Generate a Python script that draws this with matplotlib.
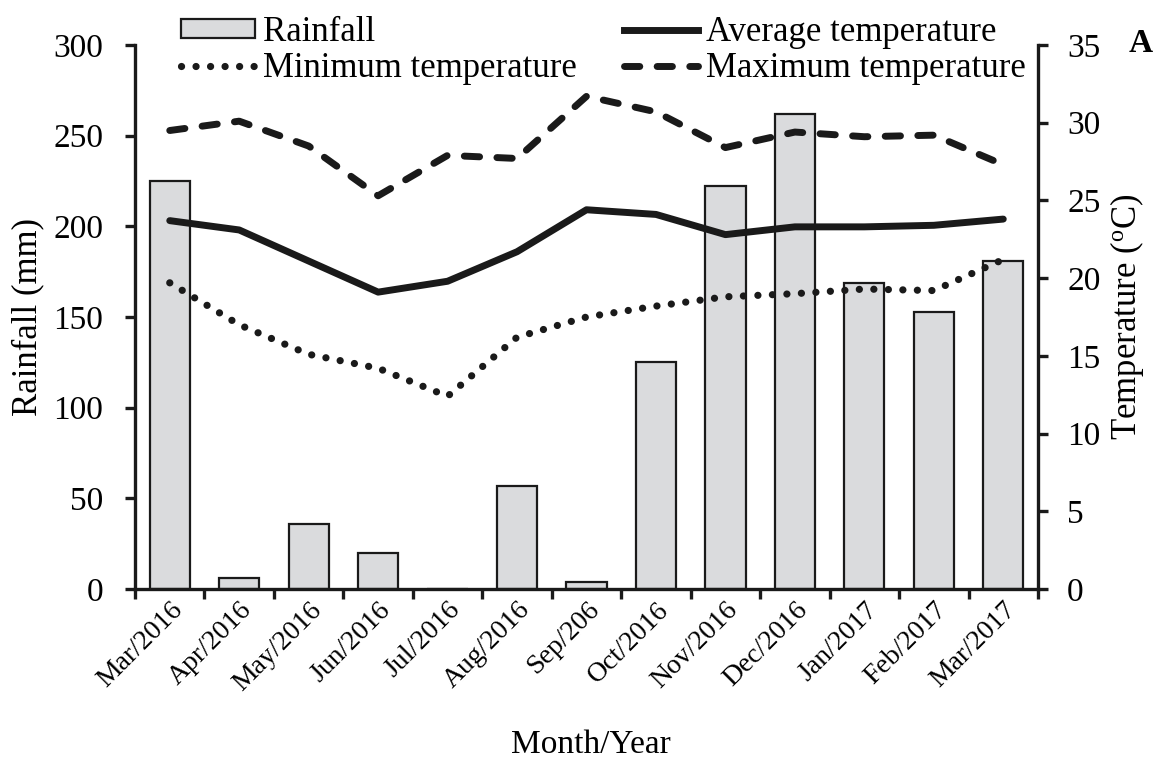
import matplotlib
matplotlib.use("Agg")
import matplotlib.pyplot as plt
from matplotlib.patches import Patch
from matplotlib.lines import Line2D
import numpy as np

plt.rcParams["font.family"] = ["Liberation Serif", "DejaVu Serif"]

months = ["Mar/2016", "Apr/2016", "May/2016", "Jun/2016", "Jul/2016", "Aug/2016",
          "Sep/206", "Oct/2016", "Nov/2016", "Dec/2016", "Jan/2017", "Feb/2017", "Mar/2017"]
rainfall = [225, 6, 36, 20, 0, 57, 4, 125, 222, 262, 169, 153, 181]
temp_avg = [23.7, 23.1, 21.1, 19.1, 19.8, 21.7, 24.4, 24.1, 22.8, 23.3, 23.3, 23.4, 23.8]
temp_min = [19.7, 17.0, 15.1, 14.2, 12.4, 16.2, 17.5, 18.2, 18.8, 19.0, 19.3, 19.2, 21.2]
temp_max = [29.5, 30.1, 28.5, 25.3, 27.9, 27.7, 31.7, 30.7, 28.4, 29.4, 29.1, 29.2, 27.3]

x = np.arange(len(months))
FS = 24
INK = "#1a1a1a"
BAR = "#dadbdd"

fig = plt.figure(figsize=(11.59, 7.58), dpi=100)
ax = fig.add_axes([0.1165, 0.2230, 0.7791, 0.7176])
ax2 = ax.twinx()

ax.bar(x, rainfall, width=0.58, color=BAR, edgecolor=INK, linewidth=1.6, zorder=2)
ax.set_xlim(-0.5, len(months) - 0.5)
ax.set_ylim(0, 300)
ax.set_yticks(np.arange(0, 301, 50))

lw = 5
dash_style = dict(dashes=(2.2, 2.5), dash_capstyle="round", dash_joinstyle="round")
dot_lw = 5.2
dot_style = dict(dashes=(0.01, 2.0), dash_capstyle="round")
ax2.plot(x, temp_avg, color=INK, lw=lw, solid_joinstyle="round", solid_capstyle="round")
ax2.plot(x, temp_max, color=INK, lw=lw, **dash_style)
ax2.plot(x, temp_min, color=INK, lw=dot_lw, **dot_style)
ax2.set_ylim(0, 35)
ax2.set_yticks(np.arange(0, 36, 5))

# Spines and ticks
for a in (ax, ax2):
    a.spines["top"].set_visible(False)
    for s in ("left", "right", "bottom"):
        a.spines[s].set_linewidth(2.4)
        a.spines[s].set_color(INK)
ax.spines["right"].set_visible(False)
ax2.spines["left"].set_visible(False)
ax2.spines["bottom"].set_visible(False)

ax.tick_params(axis="y", direction="out", length=7, width=2.4, labelsize=FS, pad=16, color=INK)
ax2.tick_params(axis="y", direction="out", length=7, width=2.4, labelsize=FS, pad=14, color=INK)

# Major x ticks at category boundaries, labels centred on the bars
ax.set_xticks(list(x - 0.5) + [len(months) - 0.5])
ax.set_xticklabels([""] * (len(months) + 1))
ax.tick_params(axis="x", direction="out", length=7, width=2.4, color=INK)
ax.set_xticks(x, minor=True)
ax.set_xticklabels(months, minor=True, rotation=45, ha="right", rotation_mode="anchor",
                   fontsize=20)
ax.tick_params(axis="x", which="minor", length=0, pad=6)

ax.set_ylabel("Rainfall (mm)", fontsize=25)
ax.yaxis.set_label_coords(-0.1185, 0.5)
ax.yaxis.label.set_verticalalignment("center")
ax2.set_ylabel("Temperature ($\\mathregular{^o}$C)", fontsize=25)
ax2.yaxis.set_label_coords(1.0986, 0.5)
ax2.yaxis.label.set_verticalalignment("center")
ax.set_xlabel("Month/Year", fontsize=FS)
ax.xaxis.set_label_coords(0.505, -0.2868)
ax.xaxis.label.set_verticalalignment("center")

fig.text(0.984, 0.943, "A", fontsize=FS, fontweight="bold", ha="center", va="center")

handles = [
    Patch(facecolor=BAR, edgecolor=INK, linewidth=1.6, label="Rainfall"),
    Line2D([], [], color=INK, lw=dot_lw, label="Minimum temperature", **dot_style),
    Line2D([], [], color=INK, lw=lw, label="Average temperature"),
    Line2D([], [], color=INK, lw=lw, label="Maximum temperature", **dash_style),
]
fig.legend(handles=handles, ncol=2, loc="upper left", bbox_to_anchor=(0.1562, 0.979),
           frameon=False, fontsize=25, handlelength=2.13, handleheight=0.5,
           handletextpad=0.23, columnspacing=1.35, labelspacing=0.1, borderpad=0.0,
           borderaxespad=0)

fig.savefig("out.png", dpi=100)
